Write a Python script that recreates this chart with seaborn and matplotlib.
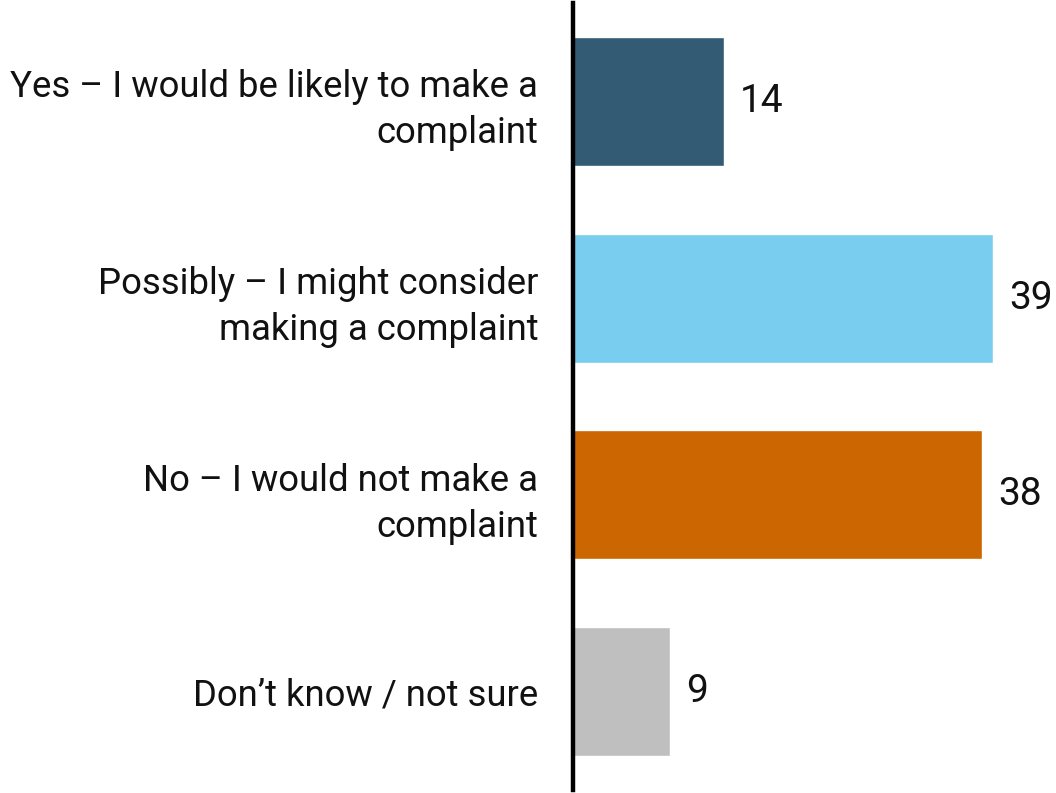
import matplotlib
matplotlib.use("Agg")
import matplotlib.pyplot as plt
import seaborn as sns
import pandas as pd

# Survey responses (%)
categories = [
    "Yes – I would be likely to make a\ncomplaint",
    "Possibly – I might consider\nmaking a complaint",
    "No – I would not make a\ncomplaint",
    "Don’t know / not sure",
]
values = [14, 39, 38, 9]
colors = ["#345b74", "#79cef0", "#cc6600", "#bfbfbf"]

df = pd.DataFrame({"response": categories, "pct": values})

sns.set_theme(style="white")
plt.rcParams["font.family"] = ["Roboto", "DejaVu Sans"]

fig = plt.figure(figsize=(10.56, 7.93), dpi=100)
ax = fig.add_axes([573 / 1056, 3 / 793, (1056 - 573) / 1056, 787 / 793])

sns.barplot(data=df, y="response", x="pct", hue="response", palette=colors,
            orient="h", width=0.655, saturation=1, legend=False, ax=ax)

ax.set_xlim(0, 44.9)
ax.set_ylim(3.5, -0.5)
ax.set_xlabel("")
ax.set_ylabel("")
ax.set_xticks([])

for side in ["top", "right", "bottom"]:
    ax.spines[side].set_visible(False)
ax.spines["left"].set_linewidth(3.2)
ax.spines["left"].set_color("black")

ax.tick_params(axis="y", length=0, pad=25)
for lbl in ax.get_yticklabels():
    lbl.set_fontsize(26.3)
    lbl.set_linespacing(1.36)
    lbl.set_color("#111111")

for container in ax.containers:
    ax.bar_label(container, labels=[f"{v:g}" for v in container.datavalues],
                 padding=12, fontsize=28, color="#111111")

fig.savefig("out.png", dpi=100, facecolor="white")
